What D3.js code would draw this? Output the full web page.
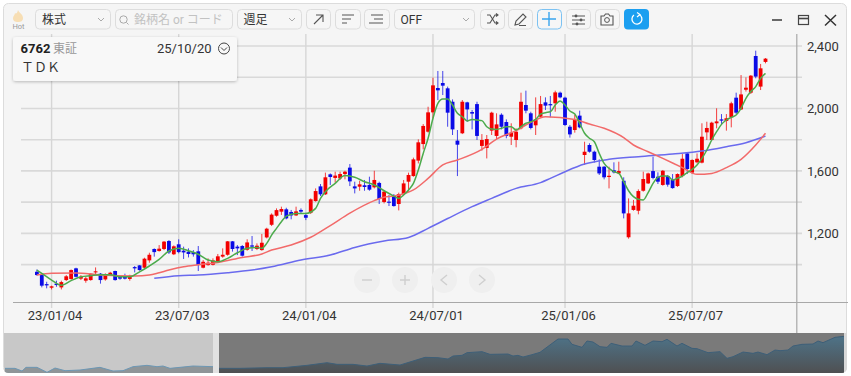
<!DOCTYPE html>
<html>
<head>
<meta charset="utf-8">
<style>
html, body { margin: 0; padding: 0; background: #fff; }
text { font-family: Roboto, "Noto Sans CJK JP", sans-serif; }
</style>
<script src="https://cdn.jsdelivr.net/npm/d3@7"></script>
</head>
<body>
<svg id="chart" width="851" height="376"></svg>
<script>
// weekly candles, 22/12/12 .. 25/10/20, one entry per week
var open = [954,933,875,852,878,854,901,908,976,910,
    897,901,950,942,905,933,959,920,927,908,
    984,995,980,1027,1100,1087,1100,1151,1066,1130,
    1089,1083,1080,1085,980,997,999,1018,1051,1063,
    1149,1115,1119,1095,1123,1100,1093,1174,1255,1313,
    1339,1354,1337,1315,1350,1317,1332,1407,1501,1450,
    1578,1555,1552,1580,1621,1501,1499,1508,1510,1495,
    1523,1401,1403,1439,1388,1452,1531,1567,1666,1772,
    1851,1975,2131,2163,2129,2043,1794,1841,2039,1977,
    2028,1760,1747,1858,1824,1960,1913,1819,1798,1873,
    2022,1969,1892,1947,2039,2028,2033,2101,2069,1883,
    1862,1954,1702,1766,1723,1627,1627,1561,1604,1584,
    1537,1175,1350,1345,1473,1520,1599,1563,1510,1567,
    1542,1503,1567,1712,1589,1655,1653,1847,1798,1905,
    1930,1920,1943,2069,1994,2120,2101,2336,2140,2298];
var close = [933,865,867,861,869,888,925,965,922,922,
    912,942,957,901,937,948,901,910,910,929,
    976,965,1038,1063,1080,1102,1147,1078,1117,1080,
    1078,1068,1066,997,1018,1012,1027,1053,1063,1149,
    1100,1104,1057,1142,1115,1121,1140,1230,1320,1349,
    1356,1296,1315,1341,1339,1300,1418,1471,1450,1559,
    1561,1570,1580,1595,1533,1488,1514,1497,1480,1542,
    1420,1467,1396,1375,1452,1520,1574,1674,1783,1888,
    1975,2148,2116,2146,1973,1866,1768,2043,1994,1967,
    1824,1798,1804,1973,1898,1883,1824,1845,1851,2043,
    1986,1875,1930,2028,2018,2020,2103,2071,1894,1834,
    1926,1879,1723,1723,1670,1584,1559,1569,1591,1599,
    1328,1328,1377,1471,1548,1584,1555,1531,1601,1512,
    1490,1580,1678,1612,1670,1678,1819,1875,1909,1917,
    1922,1937,2033,1973,2090,2133,2210,2204,2257,2319];
var high = [969,944,890,865,897,897,933,969,980,933,
    922,944,982,946,944,954,961,927,942,935,
    991,997,1044,1076,1104,1125,1151,1157,1123,1162,
    1115,1104,1093,1119,1029,1040,1040,1068,1104,1151,
    1151,1125,1125,1162,1183,1136,1196,1236,1328,1360,
    1371,1364,1350,1371,1360,1332,1424,1488,1516,1589,
    1584,1595,1595,1601,1644,1531,1537,1542,1563,1601,
    1531,1478,1446,1452,1461,1542,1589,1685,1802,1900,
    2011,2197,2240,2240,2140,2058,1862,2054,2043,1990,
    2043,1836,1830,1979,1969,1969,1930,1905,1873,2101,
    2114,1979,2071,2080,2071,2080,2114,2108,2075,1894,
    1958,1986,1787,1777,1730,1674,1631,1627,1655,1659,
    1559,1424,1414,1482,1595,1589,1691,1591,1606,1574,
    1580,1584,1708,1717,1674,1712,1905,1915,1915,2001,
    1964,1964,2043,2101,2214,2199,2214,2370,2285,2323];
var low = [929,854,848,841,858,841,895,903,918,901,
    884,897,937,878,897,927,897,903,905,897,
    950,961,976,1012,1051,1083,1093,1068,1061,1072,
    1036,1046,1051,959,976,993,995,1012,1044,1057,
    1083,1061,1051,1089,1087,1093,1089,1168,1247,1307,
    1318,1290,1290,1311,1328,1285,1324,1403,1439,1446,
    1510,1525,1542,1546,1503,1456,1473,1473,1473,1488,
    1388,1392,1375,1371,1347,1446,1467,1563,1648,1738,
    1845,1937,2054,2086,1883,1830,1567,1836,1915,1866,
    1798,1730,1680,1830,1798,1866,1809,1766,1751,1866,
    1969,1866,1830,1943,1990,1943,1979,2065,1888,1813,
    1845,1873,1638,1717,1653,1574,1546,1488,1584,1580,
    1296,1166,1345,1322,1467,1516,1546,1516,1505,1499,
    1486,1497,1559,1580,1580,1648,1648,1798,1794,1873,
    1900,1858,1879,1964,1990,2108,2093,2193,2118,2289];

// moving averages read at the weeks listed next to them
var greenWeeks = [0,1,3,5,7,9,11,13,15,17,19,21,23,25,27,29,31,33,35,37,39,41,43,45,46,47,48,49,50,51,
    53,55,57,58,59,61,63,65,67,69,71,73,74,75,76,77,78,79,80,81,82,83,84,85,86,87,88,89,90,91,92,93,94,95,96,97,98,99,100,101,102,
    103,104,105,106,107,108,109,110,111,112,113,114,115,116,117,118,119,120,121,122,123,124,125,126,127,128,129,130,131,132,133,134,135,136,137,138,139,140,141,142,143,144,145,146,147,148,149];
var greenMA = [965,944,901,867,897,922,929,935,935,922,922,954,991,1033,1087,1104,1089,1066,1029,1018,1040,1076,1104,1110,1104,1136,1189,1232,1275,1311,
    1328,1328,1360,1424,1467,1520,1570,1559,1531,1510,1473,1439,1424,1446,1478,1520,1606,1712,1809,1937,2033,2060,2060,2022,1969,1947,1920,1930,1926,1922,1883,1868,1866,1873,1883,1883,1862,1883,1905,1915,1930,
    1964,1973,1979,2022,2048,2022,1984,1964,1905,1841,1809,1787,1712,1648,1616,1595,1584,1531,1473,1435,1418,1414,1461,1520,1559,1567,1567,1542,1553,1567,1589,1610,1638,1680,1734,1798,1851,1898,1926,1943,1958,2001,2065,2108,2140,2193,2225];
var redWeeks = [0,3,8,13,20,23,25,27,30,33,37,42,46,48,52,56,60,64,69,71,73,77,80,83,86,91,94,98,101,104,
    110,113,116,120,122,125,128,132,135,138,141,144,147,149];
var redMA = [933,944,946,933,927,933,948,965,986,999,1014,1046,1068,1093,1125,1175,1250,1330,1410,1432,1439,1478,1552,1638,1670,1738,1804,1858,1911,1947,
    1930,1900,1873,1813,1766,1723,1680,1621,1578,1584,1621,1674,1766,1841];
var blueWeeks = [24,29,33,39,44,48,54,60,65,71,76,80,84,89,93,98,103,105,108,112,117,123,130,136,141,145,149];
var blueMA = [912,929,933,948,965,986,1029,1061,1110,1151,1174,1232,1295,1371,1424,1488,1525,1552,1595,1644,1674,1691,1708,1727,1755,1781,1823];

var gridPrices = [1000,1200,1400,1600,1800,2000,2200,2400];
var priceTicks = [1200,1600,2000,2400];
var dateTicks = [3,29,55,81,108,134];
var dateLabels = ["23/01/04","23/07/03","24/01/04","24/07/01","25/01/06","25/07/07"];

// overview strip at the bottom, whole history of the stock
var overviewWeeks = [1,11,18,22,33,43,51,61,76,96,109,119,129,143,153,159,166,189,209,215,236,263,279,303,323,333,349,363,376,396,
    421,434,444,449,458,463,478,486,504,509,514,519,528,536,554,564,568,578,583,589,596,603,607,618,628,632,641,649,658,663,673,678,688,693,704,716,723,729,739,749,754,763,771,776,784,789,798,809,814,819,831,840];
var overviewPrice = [288,288,123,350,350,40,309,144,185,350,123,144,392,474,392,433,288,433,392,288,288,329,329,474,639,536,536,433,598,495,
    970,950,867,1053,1094,1260,1322,1156,1177,1053,1094,991,1136,1280,2107,2107,1777,1590,1983,1921,1632,1590,1839,1673,1673,1983,1715,1983,1942,2087,1673,1839,1528,1508,1260,1322,908,1012,1301,1218,1301,1136,1425,1384,1425,1673,1777,1797,1983,1880,2211,2273];

var selectLabels = ["株式","週足","OFF"];

window.addEventListener('load', init);

function init() {
    var svg = d3.select("#chart"),
        candleW = 3.8;

    var defs = svg.append("defs");
    defs.append("clipPath").attr("id", "panelClip")
        .append("rect").attr("x", 3).attr("y", 3).attr("width", 844).attr("height", 370).attr("rx", 5);
    defs.append("clipPath").attr("id", "miniLeft")
        .append("rect").attr("x", 4).attr("y", 333).attr("width", 209).attr("height", 40);
    defs.append("clipPath").attr("id", "miniRight")
        .append("rect").attr("x", 219).attr("y", 333).attr("width", 625).attr("height", 40);
    var grad = defs.append("linearGradient").attr("id", "miniFill")
        .attr("x1", 0).attr("x2", 0).attr("y1", 0).attr("y2", 1);
    grad.append("stop").attr("offset", "0%").attr("stop-color", "#4e7388");
    grad.append("stop").attr("offset", "100%").attr("stop-color", "#4f5052");

    svg.append("rect")
        .attr("x", 3.5).attr("y", 3.5).attr("width", 843).attr("height", 369).attr("rx", 5)
        .attr("fill", "#f5f5f5").attr("stroke", "#dcdcdc");

    var x = d3.scaleLinear().domain([0, 149]).range([36.9, 765.5]),
        y = d3.scaleLinear().domain([1000, 2400]).range([264.6, 46]);

    // grid
    svg.append("g").selectAll("line").data(gridPrices).enter().append("line")
        .attr("x1", 21).attr("x2", 802)
        .attr("y1", function (d) { return y(d); })
        .attr("y2", function (d) { return y(d); })
        .attr("stroke", "#d9d9d9").attr("stroke-width", 1.6);
    svg.append("g").selectAll("line").data(dateTicks).enter().append("line")
        .attr("x1", function (d) { return x(d); })
        .attr("x2", function (d) { return x(d); })
        .attr("y1", 34).attr("y2", 308)
        .attr("stroke", "#d6d6d6").attr("stroke-width", 1.4);

    // axes
    var xAxis = svg.append("g")
        .attr("transform", "translate(0,302.5)")
        .call(d3.axisBottom(x).tickValues(dateTicks).tickSize(0).tickPadding(8)
            .tickFormat(function (d, i) { return dateLabels[i]; }));
    xAxis.select(".domain").remove();
    xAxis.selectAll("text")
        .attr("dx", 3).attr("fill", "#333").style("font-size", "13px");

    var yAxis = svg.append("g")
        .attr("transform", "translate(797,0)")
        .call(d3.axisRight(y).tickValues(priceTicks).tickSize(0).tickPadding(10).tickFormat(d3.format(",")));
    yAxis.select(".domain").remove();
    yAxis.selectAll("text").attr("fill", "#333").style("font-size", "13px");

    svg.append("line").attr("x1", 13).attr("x2", 848).attr("y1", 302.5).attr("y2", 302.5)
        .attr("stroke", "#a8a8a8").attr("stroke-width", 1);
    svg.append("line").attr("x1", 796.8).attr("x2", 796.8).attr("y1", 34).attr("y2", 333)
        .attr("stroke", "#a8a8a8").attr("stroke-width", 1.2);

    // candles
    var weeks = d3.range(open.length);
    var candles = svg.append("g").selectAll("g").data(weeks).enter().append("g")
        .attr("class", "candle");
    var colorOf = function (i) { return close[i] >= open[i] ? "#f20000" : "#0a0ae6"; };
    candles.append("line")
        .attr("x1", function (i) { return x(i); })
        .attr("x2", function (i) { return x(i); })
        .attr("y1", function (i) { return y(high[i]); })
        .attr("y2", function (i) { return y(low[i]); })
        .attr("stroke", colorOf).attr("stroke-width", 1).attr("stroke-opacity", 0.75);
    candles.append("rect")
        .attr("x", function (i) { return x(i) - candleW / 2; })
        .attr("width", candleW)
        .attr("y", function (i) { return y(Math.max(open[i], close[i])); })
        .attr("height", function (i) { return Math.max(1, Math.abs(y(open[i]) - y(close[i]))); })
        .attr("fill", colorOf);

    // moving averages
    var maLine = function (xs, ys, color) {
        var line = d3.line()
            .x(function (d) { return x(d); })
            .y(function (d, i) { return y(ys[i]); })
            .curve(d3.curveMonotoneX);
        svg.append("path").datum(xs)
            .attr("d", line)
            .attr("fill", "none").attr("stroke", color).attr("stroke-width", 1.5);
    };
    maLine(blueWeeks, blueMA, "#6a6aee");
    maLine(redWeeks, redMA, "#f26a6a");
    maLine(greenWeeks, greenMA, "#4cab4c");

    drawOverview(svg);
    drawZoomButtons(svg);
    drawToolbar(svg);
    drawInfoBox(svg);
}

function drawOverview(svg) {
    var mx = d3.scaleLinear().domain([0, 841]).range([4, 845]),
        my = d3.scaleLinear().domain([0, 2480]).range([373, 333]);
    var g = svg.append("g").attr("clip-path", "url(#panelClip)");

    g.append("rect").attr("x", 4).attr("y", 333).attr("width", 209).attr("height", 40).attr("fill", "#c8c8c8");
    g.append("rect").attr("x", 213).attr("y", 333).attr("width", 6).attr("height", 40).attr("fill", "#e2e2e2");
    g.append("rect").attr("x", 219).attr("y", 333).attr("width", 625).attr("height", 40).attr("fill", "#7a7a7a");
    g.append("rect").attr("x", 844).attr("y", 333).attr("width", 3).attr("height", 40).attr("fill", "#d8d8d8");

    var area = d3.area()
        .x(function (d) { return mx(d); })
        .y0(373)
        .y1(function (d, i) { return my(overviewPrice[i]); });
    var line = d3.line()
        .x(function (d) { return mx(d); })
        .y(function (d, i) { return my(overviewPrice[i]); });

    var left = g.append("g").attr("clip-path", "url(#miniLeft)");
    left.append("path").datum(overviewWeeks).attr("d", area).attr("fill", "#8f9598");
    left.append("path").datum(overviewWeeks).attr("d", line).attr("fill", "none").attr("stroke", "#6c97b4").attr("stroke-width", 1);
    var right = g.append("g").attr("clip-path", "url(#miniRight)");
    right.append("path").datum(overviewWeeks).attr("d", area).attr("fill", "url(#miniFill)");
    right.append("path").datum(overviewWeeks).attr("d", line).attr("fill", "none").attr("stroke", "#3e5f78").attr("stroke-width", 1);
}

function drawZoomButtons(svg) {
    var g = svg.append("g");
    [367, 405, 444, 482].forEach(function (cx) {
        g.append("circle").attr("cx", cx).attr("cy", 280).attr("r", 13).attr("fill", "#efefef");
    });
    var s = {fill: "none", stroke: "#cfcfcf", "stroke-width": 1.4};
    var path = function (d) {
        var p = g.append("path").attr("d", d);
        Object.keys(s).forEach(function (k) { p.attr(k, s[k]); });
    };
    path("M362,280H372");
    path("M400,280H410M405,275V285");
    path("M447,275L441,280L447,285");
    path("M479,275L485,280L479,285");
}

function drawToolbar(svg) {
    var g = svg.append("g");
    var box = function (x0, x1, stroke) {
        return g.append("rect")
            .attr("x", x0 + 0.5).attr("y", 9.5).attr("width", x1 - x0).attr("height", 19.5).attr("rx", 4)
            .attr("fill", "#f6f6f6").attr("stroke", stroke || "#dddddd");
    };
    var label = function (tx, str, color, size) {
        g.append("text").attr("x", tx).attr("y", 23.5).attr("fill", color || "#333")
            .style("font-size", (size || 12) + "px").text(str);
    };
    var icon = function (d, color, w) {
        g.append("path").attr("d", d).attr("fill", "none")
            .attr("stroke", color || "#555").attr("stroke-width", w || 1.1);
    };
    var chevron = function (cx) {
        icon("M" + (cx - 3) + ",18L" + cx + ",21L" + (cx + 3) + ",18", "#aaaaaa", 1);
    };

    // hot
    g.append("path")
        .attr("d", "M18,10C19,13 23,14 23,18C23,21 21,22 18,22C15,22 13,21 13,18C13,16 15,15 15,13C16,14 17,14 18,10Z")
        .attr("fill", "#f7deb4");
    g.append("text").attr("x", 18.5).attr("y", 28.5).attr("text-anchor", "middle")
        .attr("fill", "#9a9a9a").style("font-size", "7.5px").text("Hot");

    // selects
    box(35, 110);
    label(42, selectLabels[0]);
    chevron(101);
    box(115, 232);
    g.append("circle").attr("cx", 123.5).attr("cy", 19.5).attr("r", 3.7).attr("fill", "none").attr("stroke", "#aaaaaa");
    icon("M126.5,22.5L128.5,24.5", "#aaaaaa", 1);
    label(134, "銘柄名 or コード", "#c2c2c2");
    box(237, 301);
    label(243.5, selectLabels[1]);
    chevron(292);
    box(394, 474);
    label(400.5, selectLabels[2]);
    chevron(466);

    // buttons
    [[306, 330], [335, 360], [364, 389], [480, 504], [508, 532], [566, 590], [595, 619]].forEach(function (b) {
        box(b[0], b[1]);
    });
    box(537, 561, "#7cc2f2");
    g.append("rect").attr("x", 624).attr("y", 9).attr("width", 25).attr("height", 20.5).attr("rx", 4).attr("fill", "#1c9ff0");

    icon("M314,24L323,15M316,15H323V22");
    icon("M342,15H354M342,19H351M342,23H347");
    icon("M383,15H371M383,19H374M383,23H369");
    icon("M487,15H490L495,23H498M487,23H490L495,15H498M496,13.5L498,15L496,16.5M496,21.5L498,23L496,24.5");
    icon("M515,25L516,21L523,14L526,17L519,24ZM519,25.5H526");
    icon("M549,12V26M542,19H556", "#3aa5ee", 1.4);
    icon("M572,16H585M572,20H585M572,24H585");
    g.append("circle").attr("cx", 576).attr("cy", 16).attr("r", 1.4).attr("fill", "#555");
    g.append("circle").attr("cx", 581).attr("cy", 20).attr("r", 1.4).attr("fill", "#555");
    g.append("circle").attr("cx", 577).attr("cy", 24).attr("r", 1.4).attr("fill", "#555");
    icon("M601,16H604L605.5,14H608.5L610,16H613V25H601Z");
    g.append("circle").attr("cx", 607).attr("cy", 20).attr("r", 2.4).attr("fill", "none").attr("stroke", "#555");
    icon("M639,14.5A5,5 0 1 1 634,15", "#ffffff", 1.3);
    icon("M637,12.5L640,14.5L637,17", "#ffffff", 1.2);

    // window controls
    icon("M772,20H782", "#444", 1.6);
    g.append("rect").attr("x", 798.5).attr("y", 15.5).attr("width", 10).attr("height", 9).attr("fill", "none").attr("stroke", "#444").attr("stroke-width", 1.2);
    icon("M798.5,18.5H808.5", "#444", 1.6);
    icon("M825,15L836,25.5M836,15L825,25.5", "#333", 1.5);
}

function drawInfoBox(svg) {
    var f = svg.select("defs").append("filter").attr("id", "boxShadow")
        .attr("x", "-5%").attr("y", "-15%").attr("width", "110%").attr("height", "130%");
    f.append("feDropShadow").attr("dx", 0).attr("dy", 1).attr("stdDeviation", 1.5)
        .attr("flood-color", "#000").attr("flood-opacity", 0.25);

    var g = svg.append("g");
    g.append("rect").attr("x", 13).attr("y", 37).attr("width", 224).attr("height", 44).attr("rx", 3)
        .attr("fill", "#f8f8f8").attr("filter", "url(#boxShadow)");
    g.append("text").attr("x", 20.5).attr("y", 52.5).attr("fill", "#222")
        .style("font-size", "13px").style("font-weight", "700").text("6762");
    g.append("text").attr("x", 53).attr("y", 52.5).attr("fill", "#999").style("font-size", "12px").text("東証");
    g.append("text").attr("x", 157).attr("y", 52.5).attr("fill", "#333").style("font-size", "13px").text("25/10/20");
    g.append("circle").attr("cx", 224).attr("cy", 48.5).attr("r", 5.5).attr("fill", "none").attr("stroke", "#444");
    g.append("path").attr("d", "M221,47.5L224,50.5L227,47.5").attr("fill", "none").attr("stroke", "#444");
    g.append("text").attr("x", 21).attr("y", 72).attr("fill", "#333").style("font-size", "13px").text("ＴＤＫ");
}
</script>
</body>
</html>
